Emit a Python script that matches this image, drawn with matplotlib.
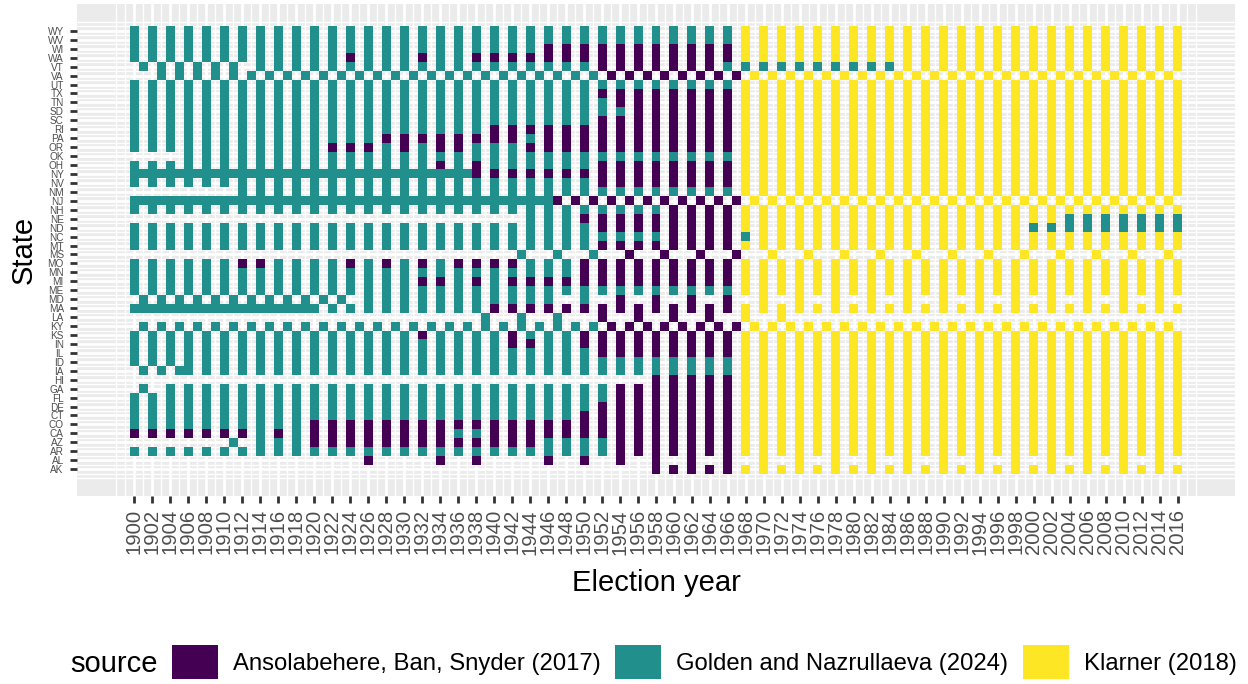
import numpy as np
import matplotlib
matplotlib.use("Agg")
import matplotlib.pyplot as plt
from matplotlib.colors import ListedColormap
from matplotlib.patches import Patch
from matplotlib.ticker import FixedLocator

plt.rcParams['font.family'] = ['Liberation Sans', 'DejaVu Sans']

# ---------------- data ----------------
years = list(range(1900, 2017))
# one character per year 1900..2016: A = Ansolabehere et al., G = Golden & Nazrullaeva, K = Klarner, . = none
# strings are written per decade (1900s, 1910s, ..., 2010s)
state_codes = {
    "WY": ("G.G.G.G.G." "G.G.G.G.G." "G.G.G.G.G." "G.G.G.G.G." "G.G.G.G.G." "G.G.G.G.G." "G.G.G.G.K." "K.K.K.K.K." "K.K.K.K.K." "K.K.K.K.K." "K.K.K.K.K." "K.K.K.K"),
    "WV": ("G.G.G.G.G." "G.G.G.G.G." "G.G.G.G.G." "G.G.G.G.G." "G.G.G.G.G." "G.G.G.G.G." "G.G.G.G.K." "K.K.K.K.K." "K.K.K.K.K." "K.K.K.K.K." "K.K.K.K.K." "K.K.K.K"),
    "WI": ("G.G.G.G.G." "G.G.G.G.G." "G.G.G.G.G." "G.G.G.G.G." "G.G.G.A.A." "A.A.A.A.A." "A.A.A.A.K." "K.K.K.K.K." "K.K.K.K.K." "K.K.K.K.K." "K.K.K.K.K." "K.K.K.K"),
    "WA": ("G.G.G.G.G." "G.G.G.G.G." "G.G.A.G.G." "G.A.G.G.A." "A.A.A.A.A." "A.A.A.A.A." "A.A.A.A.K." "K.K.K.K.K." "K.K.K.K.K." "K.K.K.K.K." "K.K.K.K.K." "K.K.K.K"),
    "VT": (".G.G.G.G.G" ".G..G.G.G." "G.G.G.G.G." "G.G.G.G.G." "G.G.G.G.G." "G.A.A.A.A." "A.A.A.G.G." "G.G.G.G.G." "G.G.G.K.K." "K.K.K.K.K." "K.K.K.K.K." "K.K.K.K"),
    "VA": ("...G.G.G.G" ".G.G.G.G.G" ".G.G.G.G.G" ".G.G.G.G.G" ".G.G.G.G.G" ".G.A.A.A.A" ".A.A.A.A.K" ".K.K.K.K.K" ".K.K.K.K.K" ".K.K.K.K.K" ".K.K.K.K.K" ".K.K.K."),
    "UT": ("G.G.G.G.G." "G.G.G.G.G." "G.G.G.G.G." "G.G.G.G.G." "G.G.G.G.G." "G.G.G.G.G." "G.G.G.G.K." "K.K.K.K.K." "K.K.K.K.K." "K.K.K.K.K." "K.K.K.K.K." "K.K.K.K"),
    "TX": ("G.G.G.G.G." "G.G.G.G.G." "G.G.G.G.G." "G.G.G.G.G." "G.G.G.G.G." "G.A.A.A.A." "A.A.A.A.K." "K.K.K.K.K." "K.K.K.K.K." "K.K.K.K.K." "K.K.K.K.K." "K.K.K.K"),
    "TN": ("G.G.G.G.G." "G.G.G.G.G." "G.G.G.G.G." "G.G.G.G.G." "G.G.G.G.G." "G.G.A.A.A." "A.A.A.A.K." "K.K.K.K.K." "K.K.K.K.K." "K.K.K.K.K." "K.K.K.K.K." "K.K.K.K"),
    "SD": ("G.G.G.G.G." "G.G.G.G.G." "G.G.G.G.G." "G.G.G.G.G." "G.G.G.G.G." "G.G.G.A.A." "A.A.A.A.K." "K.K.K.K.K." "K.K.K.K.K." "K.K.K.K.K." "K.K.K.K.K." "K.K.K.K"),
    "SC": ("G.G.G.G.G." "G.G.G.G.G." "G.G.G.G.G." "G.G.G.G.G." "G.G.G.G.G." "G.A.A.A.A." "A.A.A.A.K." "K.K.K.K.K." "K.K.K.K.K." "K.K.K.K.K." "K.K.K.K.K." "K.K.K.K"),
    "RI": ("G.G.G.G.G." "G.G.G.G.G." "G.G.G.G.G." "G.G.G.G.G." "A.A.A.A.A." "A.A.A.A.A." "A.A.A.A.K." "K.K.K.K.K." "K.K.K.K.K." "K.K.K.K.K." "K.K.K.K.K." "K.K.K.K"),
    "PA": ("G.G.G.G.G." "G.G.G.G.G." "G.G.G.G.A." "A.A.A.A.A." "A.A.G.A.A." "A.A.A.A.A." "A.A.A.A.K." "K.K.K.K.K." "K.K.K.K.K." "K.K.K.K.K." "K.K.K.K.K." "K.K.K.K"),
    "OR": ("G.G.G.G.G." "G.G.G.G.G." "G.A.A.A.G." "A.G.A.A.G." "G.G.A.A.A." "A.A.A.A.A." "A.A.A.A.K." "K.K.K.K.K." "K.K.K.K.K." "K.K.K.K.K." "K.K.K.K.K." "K.K.K.K"),
    "OK": ("......G.G." "G.G.G.G.G." "G.G.G.G.G." "G.G.G.G.G." "G.G.G.G.G." "G.G.G.G.G." "G.G.G.G.K." "K.K.K.K.K." "K.K.K.K.K." "K.K.K.K.K." "K.K.K.K.K." "K.K.K.K"),
    "OH": ("G.G.G.G.G." "G.G.G.G.G." "G.G.G.G.G." "G.G.A.G.A." "G.G.G.G.G." "G.A.A.A.A." "A.A.A.A.K." "K.K.K.K.K." "K.K.K.K.K." "K.K.K.K.K." "K.K.K.K.K." "K.K.K.K"),
    "NY": ("GGGGGGGGGG" "GGGGGGGGGG" "GGGGGGGGGG" "GGGGGGGGA." "A.A.A.A.A." "A.A.A.A.A." "A.A.A.A.K." "K.K.K.K.K." "K.K.K.K.K." "K.K.K.K.K." "K.K.K.K.K." "K.K.K.K"),
    "NV": ("G.G.G.G.G." "G.G.G.G.G." "G.G.G.G.G." "G.G.G.G.G." "G.G.G.G.G." "G.A.A.A.A." "A.A.A.A.K." "K.K.K.K.K." "K.K.K.K.K." "K.K.K.K.K." "K.K.K.K.K." "K.K.K.K"),
    "NM": (".........." "..G.G.G.G." "G.G.G.G.G." "G.G.G.G.G." "G.G.G.G.G." "G.G.G.G.G." "G.G.G.G.K." "K.K.K.K.K." "K.K.K.K.K." "K.K.K.K.K." "K.K.K.K.K." "K.K.K.K"),
    "NJ": ("GGGGGGGGGG" "GGGGGGGGGG" "GGGGGGGGGG" "GGGGGGGGGG" "GGGGGGGA.A" ".A.A.A.A.A" ".A.A.A.A.K" ".K.K.K.K.K" ".K.K.K.K.K" ".K.K.K.K.K" ".K.K.K.K.K" ".K.K.K."),
    "NH": ("G.G.G.G.G." "G.G.G.G.G." "G.G.G.G.G." "G.G.G.G.G." "G.G.G.G.G." "G.G.G.G.G." "A.A.A.A.K." "K.K.K.K.K." "K.K.K.K.K." "K.K.K.K.K." "K.K.K.K.K." "K.K.K.K"),
    "NE": (".........." ".........." ".........." ".........." "....G.G.G." "A.A.A.A.A." "A.A.A.A.K." "K.K.K.K.K." "K.K.K.K.K." "K.K.K.K.K." "K.K.G.G.G." "G.G.G.G"),
    "ND": ("G.G.G.G.G." "G.G.G.G.G." "G.G.G.G.G." "G.G.G.G.G." "G.G.G.G.G." "G.A.A.A.A." "A.A.A.A.K." "K.K.K.K.K." "K.K.K.K.K." "K.K.K.K.K." "G.G.G.G.G." "G.G.G.G"),
    "NC": ("G.G.G.G.G." "G.G.G.G.G." "G.G.G.G.G." "G.G.G.G.G." "G.G.G.G.G." "G.G.G.G.G." "A.A.A.A.G." "K.K.K.K.K." "K.K.K.K.K." "K.K.K.K.K." "K.K.K.K.K." "K.K.K.K"),
    "MT": ("G.G.G.G.G." "G.G.G.G.G." "G.G.G.G.G." "G.G.G.G.G." "G.G.G.G.G." "G.A.A.A.A." "A.A.A.A.K." "K.K.K.K.K." "K.K.K.K.K." "K.K.K.K.K." "K.K.K.K.K." "K.K.K.K"),
    "MS": (".........." ".........." ".........." ".........." "...G...G.." ".G...A...A" "...A...A.." ".K...K...K" "...K...K.." ".K...K...K" "...K...K.." ".K...K."),
    "MO": ("G.G.G.G.G." "G.A.A.G.G." "G.G.A.G.A." "G.A.G.A.A." "A.A.G.G.G." "A.A.A.A.A." "A.A.A.A.K." "K.K.K.K.K." "K.K.K.K.K." "K.K.K.K.K." "K.K.K.K.K." "K.K.K.K"),
    "MN": ("G.G.G.G.G." "G.G.G.G.G." "G.G.G.G.G." "G.G.G.G.G." "G.G.G.G.G." "A.A.A.A.A." "A.A.A.A.K." "K.K.K.K.K." "K.K.K.K.K." "K.K.K.K.K." "K.K.K.K.K." "K.K.K.K"),
    "MI": ("G.G.G.G.G." "G.G.G.G.G." "G.G.G.G.G." "G.A.A.G.A." "G.A.A.A.A." "A.A.A.A.A." "A.A.A.A.K." "K.K.K.K.K." "K.K.K.K.K." "K.K.K.K.K." "K.K.K.K.K." "K.K.K.K"),
    "ME": ("G.G.G.G.G." "G.G.G.G.G." "G.G.G.G.G." "G.G.G.G.G." "G.G.G.G.G." "G.G.G.G.G." "G.G.G.G.K." "K.K.K.K.K." "K.K.K.K.K." "K.K.K.K.K." "K.K.K.K.K." "K.K.K.K"),
    "MD": (".G.G.G.G.G" ".G.G.G.G.G" ".G.G..G.G." "G.G.G.G.G." "G.G.G.G..." "G...A...A." "..A...A..." "K...K...K." "..K...K..." "K...K...K." "..K...K..." "K...K.."),
    "MA": ("GGGGGGGGGG" "GGGGGGGGGG" "G.G.G.G.G." "G.G.G.G.G." "A.A.A.A.A." "A.A.A.A.A." "A.A.A.A.K." "K.K.K.K.K." "K.K.K.K.K." "K.K.K.K.K." "K.K.K.K.K." "K.K.K.K"),
    "LA": (".........." ".........." ".........." ".........G" "...G...G.." "..A...A..." "A...A...K." "..K......." ".........." ".........." ".........." "......."),
    "KY": (".G.G.G.G.G" ".G.G.G.G.G" ".G.G.G.G.G" ".G.G.G.G.G" ".G.G.G.G.G" ".G.A.A.A.A" ".A.A.A.A.K" ".K.K.K.K.K" ".K.K.K.K.K" ".K.K.K.K.K" ".K.K.K.K.K" ".K.K.K."),
    "KS": ("G.G.G.G.G." "G.G.G.G.G." "G.G.G.G.G." "G.A.G.G.G." "G.A.G.G.G." "A.A.A.A.A." "A.A.A.A.K." "K.K.K.K.K." "K.K.K.K.K." "K.K.K.K.K." "K.K.K.K.K." "K.K.K.K"),
    "IN": ("G.G.G.G.G." "G.G.G.G.G." "G.G.G.G.G." "G.G.G.G.G." "G.A.A.G.G." "A.A.A.A.A." "A.A.A.A.K." "K.K.K.K.K." "K.K.K.K.K." "K.K.K.K.K." "K.K.K.K.K." "K.K.K.K"),
    "IL": ("G.G.G.G.G." "G.G.G.G.G." "G.G.G.G.G." "G.G.G.G.G." "G.G.G.G.G." "G.A.A.A.A." "A.A.A.A.K." "K.K.K.K.K." "K.K.K.K.K." "K.K.K.K.K." "K.K.K.K.K." "K.K.K.K"),
    "ID": ("G.G.G.G.G." "G.G.G.G.G." "G.G.G.G.G." "G.G.G.G.G." "G.G.G.G.G." "G.G.G.G.G." "G.G.G.G.K." "K.K.K.K.K." "K.K.K.K.K." "K.K.K.K.K." "K.K.K.K.K." "K.K.K.K"),
    "IA": (".G.G.GG.G." "G.G.G.G.G." "G.G.G.G.G." "G.G.G.G.G." "G.G.G.G.G." "G.G.G.G.G." "G.G.G.G.K." "K.K.K.K.K." "K.K.K.K.K." "K.K.K.K.K." "K.K.K.K.K." "K.K.K.K"),
    "HI": (".........." ".........." ".........." ".........." ".........." "........A." "A.A.A.A.K." "K.K.K.K.K." "K.K.K.K.K." "K.K.K.K.K." "K.K.K.K.K." "K.K.K.K"),
    "GA": (".G..G.G.G." "G.G.G.G.G." "G.G.G.G.G." "G.G.G.G.G." "G.G.G.G.G." "G.G.A.A.A." "A.A.A.A.K." "K.K.K.K.K." "K.K.K.K.K." "K.K.K.K.K." "K.K.K.K.K." "K.K.K.K"),
    "FL": ("G.G.G.G.G." "G.G.G.G.G." "G.G.G.G.G." "G.G.G.G.G." "G.G.G.G.G." "G.G.A.A.A." "A.A.A.A.K." "K.K.K.K.K." "K.K.K.K.K." "K.K.K.K.K." "K.K.K.K.K." "K.K.K.K"),
    "DE": ("G.G.G.G.G." "G.G.G.G.G." "G.G.G.G.G." "G.G.G.G.G." "G.G.G.G.G." "G.A.A.A.A." "A.A.A.A.K." "K.K.K.K.K." "K.K.K.K.K." "K.K.K.K.K." "K.K.K.K.K." "K.K.K.K"),
    "CT": ("G.G.G.G.G." "G.G.G.G.G." "G.G.G.G.G." "G.G.G.G.G." "G.G.G.G.G." "A.A.A.A.A." "A.A.A.A.K." "K.K.K.K.K." "K.K.K.K.K." "K.K.K.K.K." "K.K.K.K.K." "K.K.K.K"),
    "CO": ("G.G.G.G.G." "G.G.G.G.G." "A.A.A.A.A." "A.A.A.A.A." "A.A.A.A.A." "A.A.A.A.A." "A.A.A.A.K." "K.K.K.K.K." "K.K.K.K.K." "K.K.K.K.K." "K.K.K.K.K." "K.K.K.K"),
    "CA": ("A.A.A.A.A." "A.A.G.A.G." "A.A.A.A.A." "A.A.A.G.G." "A.A.A.A.A." "A.A.A.A.A." "A.A.A.A.K." "K.K.K.K.K." "K.K.K.K.K." "K.K.K.K.K." "K.K.K.K.K." "K.K.K.K"),
    "AZ": (".........." ".G..G.G.G." "A.A.A.A.A." "A.A.A.A.A." "A.A.A.G.G." "G.G.A.A.A." "A.A.A.A.K." "K.K.K.K.K." "K.K.K.K.K." "K.K.K.K.K." "K.K.K.K.K." "K.K.K.K"),
    "AR": ("G.G.G.G.G." "G.G.G.G.G." "G.G.G.G.G." "G.G.G.G.G." "G.G.G.G.G." "G.G.A.A.A." "A.A.A.A.K." "K.K.K.K.K." "K.K.K.K.K." "K.K.K.K.K." "K.K.K.K.K." "K.K.K.K"),
    "AL": (".........." ".........." "......A..." "....A...A." "......A..." "A...A...A." "..A...A..." "K...K...K." "..K...K..." "K...K...K." "..K...K..." "K...K.."),
    "AK": (".........." ".........." ".........." ".........." ".........." "........A." "A.A.A.A.K." "K.K.K.K.K." "K.K.K.K.K." "K.K.K.K.K." "K.K.K.K.K." "K.K.K.K"),
}
# bottom-to-top order of the y axis
states = ["AK", "AL", "AR", "AZ", "CA", "CO", "CT", "DE", "FL", "GA", "HI", "IA", "ID", "IL", "IN",
          "KS", "KY", "LA", "MA", "MD", "ME", "MI", "MN", "MO", "MS", "MT", "NC", "ND", "NE", "NH",
          "NJ", "NM", "NV", "NY", "OH", "OK", "OR", "PA", "RI", "SC", "SD", "TN", "TX", "UT", "VA",
          "VT", "WA", "WI", "WV", "WY"]
sources = ["Ansolabehere, Ban, Snyder (2017)", "Golden and Nazrullaeva (2024)", "Klarner (2018)"]
source_keys = ["A", "G", "K"]
colors = ["#440154", "#21908C", "#FDE725"]
x_breaks = list(range(1900, 2017, 2))

# ---------------- build grid ----------------
Z = np.full((len(states), len(years)), np.nan)
for i, st in enumerate(states):
    s = state_codes[st]
    assert len(s) == len(years), (st, len(s))
    for j, ch in enumerate(s):
        if ch in source_keys:
            Z[i, j] = source_keys.index(ch)
Zm = np.ma.masked_invalid(Z)

W, H = 1248, 684
fig = plt.figure(figsize=(W / 100, H / 100), dpi=100)
ax = fig.add_axes([77 / W, 1 - 496 / H, (1235 - 77) / W, (496 - 4) / H])
ax.set_facecolor("#EBEBEB")

xedges = np.arange(years[0] - 0.5, years[-1] + 1.5, 1.0)
yedges = np.arange(0.5, len(states) + 1.5, 1.0)
ax.pcolormesh(xedges, yedges, Zm, cmap=ListedColormap(colors), vmin=-0.5, vmax=2.5,
              shading="flat", antialiased=False, zorder=2)

xr = (years[0] - 0.5, years[-1] + 0.5)
xe = 0.05 * (xr[1] - xr[0])
ax.set_xlim(xr[0] - xe, xr[1] + xe)
yr = (0.5, len(states) + 0.5)
ye = 0.05 * (yr[1] - yr[0])
ax.set_ylim(yr[0] - ye, yr[1] + ye)

ax.set_xticks(x_breaks)
ax.set_xticklabels([str(y) for y in x_breaks], rotation=90, fontsize=14.6, color="#4D4D4D")
ax.set_yticks(np.arange(1, len(states) + 1))
ax.set_yticklabels(states, fontsize=7.2, color="#4D4D4D")
minor_x = [1898, 1899] + [y for y in range(1901, 2016, 2)] + [2017, 2018]
minor_y = [0] + list(np.arange(0.5, len(states) + 1, 1.0)) + [len(states) + 1]
ax.xaxis.set_minor_locator(FixedLocator(minor_x))
ax.yaxis.set_minor_locator(FixedLocator(minor_y))
ax.tick_params(which="major", length=5.3, width=2.0, color="#333333", pad=4.2)
ax.tick_params(which="minor", length=0)
ax.grid(which="major", color="white", linewidth=2.0, zorder=1)
ax.grid(which="minor", color="white", linewidth=1.0, zorder=1)
ax.set_axisbelow(True)
for sp in ax.spines.values():
    sp.set_visible(False)

ax.set_xlabel("Election year", fontsize=21)
ax.xaxis.set_label_coords(0.5, -(583 - 496) / 492)
ax.xaxis.label.set_va("center")
ax.set_ylabel("State", fontsize=21)
ax.yaxis.set_label_coords((24 - 77) / 1158, 0.5)
ax.yaxis.label.set_va("center")

handles = [Patch(facecolor=c, edgecolor="none") for c in colors]
fig.text(70 / W, 1 - 664 / H, "source", fontsize=21, ha="left", va="center")
fig.legend(handles, sources, loc="center left", bbox_to_anchor=(172 / W, 1 - 662 / H),
           ncol=3, frameon=False, fontsize=17.2, handlelength=1.92, handleheight=1.85,
           handletextpad=0.63, columnspacing=0.62, borderpad=0, borderaxespad=0)

fig.savefig("out.png", dpi=100)
